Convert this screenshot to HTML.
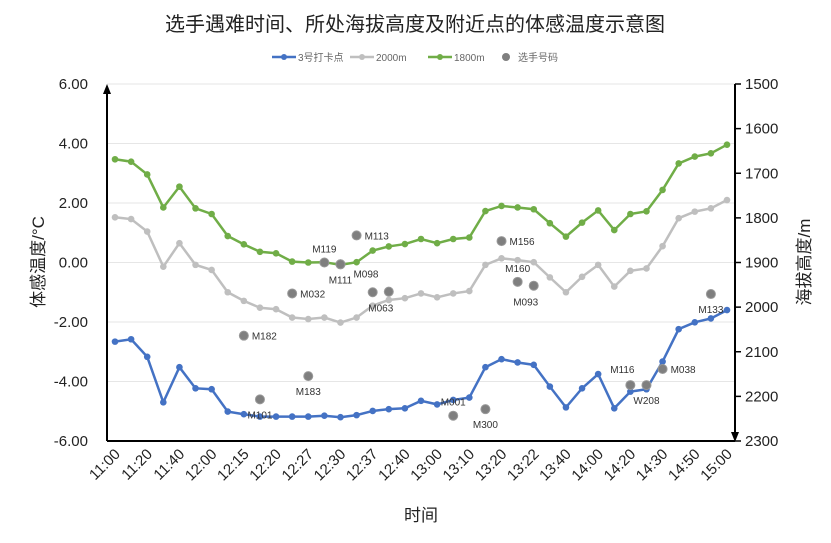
<!DOCTYPE html>
<html><head><meta charset="utf-8"><style>
body{margin:0;background:#fff;}
svg{display:block;font-family:"Liberation Sans","Noto Sans CJK SC",sans-serif;}
</style></head><body>
<svg id="chart" width="831" height="543" viewBox="0 0 831 543">
<text x="415" y="31" text-anchor="middle" font-size="20" fill="#222">选手遇难时间、所处海拔高度及附近点的体感温度示意图</text>
<g id="legend" font-size="10" fill="#666">
<g><line x1="272" y1="57" x2="296" y2="57" stroke="#4472C4" stroke-width="2.5"/><circle cx="284" cy="57" r="3" fill="#4472C4"/><text x="298" y="61">3号打卡点</text></g>
<g><line x1="350" y1="57" x2="374" y2="57" stroke="#BFBFBF" stroke-width="2.5"/><circle cx="362" cy="57" r="3" fill="#BFBFBF"/><text x="376" y="61">2000m</text></g>
<g><line x1="428" y1="57" x2="452" y2="57" stroke="#70AD47" stroke-width="2.5"/><circle cx="440" cy="57" r="3" fill="#70AD47"/><text x="454" y="61">1800m</text></g>
<g><circle cx="506" cy="57" r="4" fill="#7F7F7F"/><text x="518" y="61">选手号码</text></g>
</g>
<g id="grid"></g><g id="axes"></g><g id="series"></g><g id="scatter"></g>
<text transform="translate(44,262) rotate(-90)" text-anchor="middle" font-size="17" fill="#222">体感温度/°C</text>
<text transform="translate(810,262) rotate(-90)" text-anchor="middle" font-size="17" fill="#222">海拔高度/m</text>
<text x="421" y="521" text-anchor="middle" font-size="17" fill="#222">时间</text>
</svg>
<script>
const xLabels=["11:00","11:20","11:40","12:00","12:15","12:20","12:27","12:30","12:37","12:40","13:00","13:10","13:20","13:22","13:40","14:00","14:20","14:30","14:50","15:00"];
const leftTicks=[6,4,2,0,-2,-4,-6];
const rightTicks=[1500,1600,1700,1800,1900,2000,2100,2200,2300];
const blue=[-2.66,-2.58,-3.17,-4.7,-3.52,-4.23,-4.26,-5.01,-5.1,-5.18,-5.18,-5.18,-5.18,-5.15,-5.2,-5.13,-4.99,-4.93,-4.9,-4.65,-4.77,-4.62,-4.54,-3.52,-3.25,-3.36,-3.44,-4.17,-4.87,-4.23,-3.75,-4.9,-4.34,-4.26,-3.33,-2.24,-2.01,-1.88,-1.6];
const gray=[1.52,1.46,1.04,-0.14,0.65,-0.08,-0.25,-1.0,-1.29,-1.52,-1.57,-1.85,-1.9,-1.85,-2.02,-1.85,-1.45,-1.26,-1.2,-1.04,-1.17,-1.04,-0.96,-0.08,0.14,0.08,0.01,-0.5,-1.0,-0.48,-0.08,-0.81,-0.28,-0.2,0.55,1.49,1.71,1.82,2.1];
const green=[3.47,3.39,2.96,1.85,2.55,1.82,1.63,0.89,0.61,0.36,0.31,0.03,0,0.01,-0.08,0.01,0.4,0.54,0.62,0.79,0.65,0.79,0.84,1.73,1.9,1.85,1.79,1.32,0.87,1.34,1.75,1.09,1.63,1.72,2.44,3.33,3.56,3.67,3.96];
const playerNames=["M182","M101","M032","M183","M119","M111","M098","M113","M063a","M063","M001","M300","M156","M160","M093","M116","W208","M038","M133"];
const playerIdx=[8,9,11,12,13,14,14,15,16,17,21,23,24,25,26,32,33,34,37];
const playerVal=[-2.46,-4.6,-1.04,-3.82,0,-0.06,-0.06,0.91,-1.0,-0.98,-5.15,-4.93,0.72,-0.65,-0.78,-4.12,-4.12,-3.58,-1.06];
const labelPos=["r","b","r","b","t","b","br","r","n","bl","t","b","r","t","bl","tl","b","r","b"];

const NS="http://www.w3.org/2000/svg";
const X0=115,X1=727,Y0=84,Y1=441,N=blue.length;
const xs=i=>X0+(X1-X0)*i/(N-1);
const ys=v=>Y0+(6-v)/12*(Y1-Y0);
const yr=v=>Y0+(v-1500)/800*(Y1-Y0);
function mk(tag,attrs,parent){const e=document.createElementNS(NS,tag);for(const k in attrs)e.setAttribute(k,attrs[k]);parent.appendChild(e);return e;}
const grid=document.getElementById('grid'),axes=document.getElementById('axes'),series=document.getElementById('series'),sc=document.getElementById('scatter');
leftTicks.forEach(v=>{
 if(v>-6){const l=mk('line',{x1:107,x2:735,y1:ys(v),y2:ys(v),stroke:'#E6E6E6','stroke-width':1},grid);
 
 }
 const t=mk('text',{x:88,y:ys(v)+5,'text-anchor':'end','font-size':15,fill:'#222'},axes);t.textContent=v.toFixed(2);
 
 
});
rightTicks.forEach(v=>{
 const k=mk('line',{x1:735,x2:741,y1:yr(v),y2:yr(v),stroke:'#000','stroke-width':1.5},axes);
 
 
 const t=mk('text',{x:745,y:yr(v)+5,'font-size':15,fill:'#222'},axes);t.textContent=v;
 
 
});
let a=mk('line',{x1:107,y1:441,x2:107,y2:92,stroke:'#000','stroke-width':2},axes);


a=mk('polygon',{points:'107,84 103,94 111,94',fill:'#000'},axes);


a=mk('line',{x1:107,y1:441,x2:735,y2:441,stroke:'#000','stroke-width':2},axes);


a=mk('line',{x1:735,y1:84,x2:735,y2:433,stroke:'#000','stroke-width':2},axes);


a=mk('polygon',{points:'735,442 731,432 739,432',fill:'#000'},axes);


xLabels.forEach((s,j)=>{const x=xs(j*2);
 const t=mk('text',{transform:`translate(${x+6},${455}) rotate(-45)`,'text-anchor':'end','font-size':15,fill:'#222'},axes);t.textContent=s;
 
 
});
[[green,'#70AD47','line-1800m'],[gray,'#BFBFBF','line-2000m'],[blue,'#4472C4','line-3hao']].forEach(([d,c,n])=>{
 const p=mk('polyline',{points:d.map((v,i)=>xs(i)+','+ys(v)).join(' '),fill:'none',stroke:c,'stroke-width':2.5},series);
 
 
 d.forEach((v,i)=>{const m=mk('circle',{cx:xs(i),cy:ys(v),r:3.3,fill:c},series);
  
  });
});
playerNames.forEach((n,i)=>{
 const x=xs(playerIdx[i]),y=ys(playerVal[i]);
 const c=mk('circle',{cx:x,cy:y,r:4.5,fill:'#7F7F7F',stroke:'#999','stroke-width':1},sc);
 
 
 const p=labelPos[i];if(p==='n')return;
 let tx=x,ty=y,an='middle';
 if(p==='r'){tx=x+8;ty=y+4;an='start';}
 else if(p==='b'){ty=y+19;}
 else if(p==='t'){ty=y-10;}
 else if(p==='br'){tx=x+13;ty=y+13;an='start';}
 else if(p==='bl'){tx=x-8;ty=y+20;}
 else if(p==='tl'){tx=x-8;ty=y-12;}
 const t=mk('text',{x:tx,y:ty,'text-anchor':an,'font-size':10,fill:'#333'},sc);t.textContent=n.replace('a','');
 
 
});
</script>
</body></html>
